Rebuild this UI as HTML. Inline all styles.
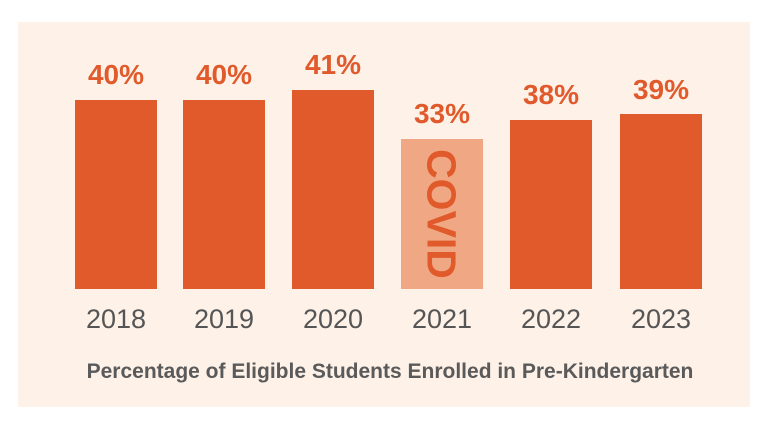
<!DOCTYPE html>
<html><head><style>
body{margin:0;width:768px;height:434px;background:#fff;position:relative;overflow:hidden;font-family:"Liberation Sans",sans-serif}
.panel{position:absolute;left:18px;top:22px;width:732px;height:385px;background:#fdf1e8}
.bar{position:absolute;background:#e05a2b;width:82px}
.pct{position:absolute;width:110px;text-align:center;color:#e05a2b;font-weight:bold;font-size:28px;line-height:28px}
.yr{position:absolute;top:304px;width:110px;text-align:center;color:#555;font-size:27px}
.cap{position:absolute;top:360px;left:6px;width:768px;text-align:center;color:#5a5a5a;font-size:21px;font-weight:bold}
.covid{position:absolute;left:401px;top:139px;width:82px;height:150px;background:#f0a884}
.ct{position:absolute;left:441px;top:214px;transform:translate(-50%,-50%) rotate(90deg);color:#e05a2b;font-weight:bold;font-size:41px;white-space:nowrap}
</style></head><body>
<div class="panel"></div>
<div class="bar" style="left:75px;top:100px;height:189px"></div>
<div class="bar" style="left:183px;top:100px;height:189px"></div>
<div class="bar" style="left:292px;top:90px;height:199px"></div>
<div class="covid"></div><div class="ct">COVID</div>
<div class="bar" style="left:510px;top:120px;height:169px"></div>
<div class="bar" style="left:620px;top:114px;height:175px"></div>
<div class="pct" style="left:61px;top:61px">40%</div>
<div class="pct" style="left:169px;top:61px">40%</div>
<div class="pct" style="left:278px;top:51px">41%</div>
<div class="pct" style="left:387px;top:100px">33%</div>
<div class="pct" style="left:496px;top:81px">38%</div>
<div class="pct" style="left:606px;top:76px">39%</div>
<div class="yr" style="left:61px">2018</div>
<div class="yr" style="left:169px">2019</div>
<div class="yr" style="left:278px">2020</div>
<div class="yr" style="left:387px">2021</div>
<div class="yr" style="left:496px">2022</div>
<div class="yr" style="left:606px">2023</div>
<div class="cap">Percentage of Eligible Students Enrolled in Pre-Kindergarten</div>
</body></html>
